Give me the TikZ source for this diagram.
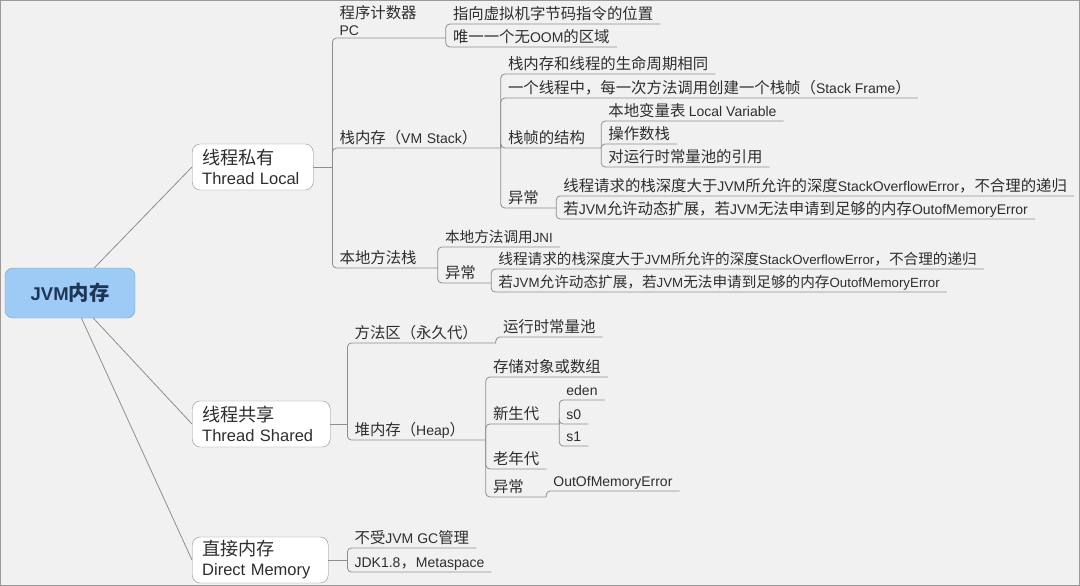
\documentclass[tikz,border=0pt]{standalone}
\usepackage{fontspec}
\setmainfont{Liberation Sans}
\newfontfamily\cjkfont{Noto Sans CJK SC}[Scale=1.1]
\usetikzlibrary{positioning}

% switch to the CJK family for Chinese characters
\XeTeXinterchartokenstate=1
\newXeTeXintercharclass\cjkclass
\count255="4E00
\loop
  \XeTeXcharclass\count255=\cjkclass
  \ifnum\count255<"9FFF \advance\count255 by 1 \repeat
\XeTeXcharclass"FF08=\cjkclass
\XeTeXcharclass"FF09=\cjkclass
\XeTeXcharclass"FF0C=\cjkclass
\XeTeXcharclass"3001=\cjkclass
\XeTeXinterchartoks 0 \cjkclass = {\cjkfont}
\XeTeXinterchartoks 4095 \cjkclass = {\cjkfont}
\XeTeXinterchartoks \cjkclass 0 = {\rmfamily}
\XeTeXinterchartoks 4095 0 = {\rmfamily}

\definecolor{bgcol}{HTML}{F1F1F1}
\definecolor{framecol}{HTML}{9A9A9A}
\definecolor{linecol}{HTML}{8E8E8E}
\definecolor{rootfill}{HTML}{9DCBF6}
\definecolor{rootline}{HTML}{7D9DC2}
\definecolor{roottext}{HTML}{1E3656}
\definecolor{textcol}{HTML}{2E2E2E}

\tikzset{
  branch/.style={draw=linecol, line width=0.8pt, rounded corners=4pt},
  topic/.style={anchor=south west, inner xsep=7pt, inner ysep=2pt, text depth=2pt,
    align=left, text=textcol, font=\fontsize{14}{17}\selectfont},
  smalltopic/.style={font=\fontsize{13.3}{16}\selectfont},
  area/.style={draw=linecol, fill=white, rounded corners=8pt, anchor=west,
    minimum height=46pt, inner xsep=10pt, align=left, text=textcol,
    font=\fontsize{16.5}{20}\selectfont},
}

\begin{document}
\begin{tikzpicture}[x=1pt, y=-1pt]

\useasboundingbox (0,0) rectangle (1080,586);
\fill[bgcol] (0,0) rectangle (1080,586);
\draw[framecol, line width=1.5pt] (0,0) rectangle (1080,586);

% root and the three areas
\node[draw=rootline, fill=rootfill, rounded corners=8pt, minimum width=130pt,
  minimum height=50pt, text=roottext, font=\fontsize{18.5}{22}\selectfont\bfseries]
  (root) at (70,293) {JVM内存};

\node[area, text width=101pt] (local) at (192,167) {线程私有\\Thread Local};
\node[area, text width=118pt] (shared) at (192,424) {线程共享\\Thread Shared};
\node[area, text width=116pt] (direct) at (192,560) {直接内存\\Direct Memory};

\coordinate (localj) at ([xshift=19pt]local.east);
\coordinate (sharedj) at ([xshift=17pt]shared.east);
\coordinate (directj) at ([xshift=19pt]direct.east);

% thread local
\node[topic, text width=99pt, text depth={}] (pc) at (localj |- 0,38) {程序计数器\\PC};
\node[topic, text width=154pt] (stack) at (localj |- 0,148) {栈内存（VM Stack）};
\node[topic, text width=91pt] (native) at (localj |- 0,268) {本地方法栈};

\node[topic] (pcpos) at (pc.south east |- 0,24) {指向虚拟机字节码指令的位置};
\node[topic] (pconly) at (pc.south east |- 0,47) {唯一一个无OOM的区域};

\node[topic] (life) at (stack.south east |- 0,74) {栈内存和线程的生命周期相同};
\node[topic] (perframe) at (stack.south east |- 0,98) {一个线程中，每一次方法调用创建一个栈帧（Stack Frame）};
\node[topic, text width=86pt] (frame) at (stack.south east |- 0,148) {栈帧的结构};
\node[topic, text width=41pt] (stackerr) at (stack.south east |- 0,208) {异常};

\node[topic] (localvar) at (frame.south east |- 0,121) {本地变量表 Local Variable};
\node[topic] (operand) at (frame.south east |- 0,144) {操作数栈};
\node[topic] (constref) at (frame.south east |- 0,167) {对运行时常量池的引用};

\node[topic] (sof) at (stackerr.south east |- 0,196) {线程请求的栈深度大于JVM所允许的深度StackOverflowError，不合理的递归};
\node[topic] (oom) at (stackerr.south east |- 0,219) {若JVM允许动态扩展，若JVM无法申请到足够的内存OutofMemoryError};

\node[topic, smalltopic] (jni) at (native.south east |- 0,247) {本地方法调用JNI};
\node[topic, text width=39pt] (nativeerr) at (native.south east |- 0,283) {异常};
\node[topic, smalltopic] (nsof) at (nativeerr.south east |- 0,269) {线程请求的栈深度大于JVM所允许的深度StackOverflowError，不合理的递归};
\node[topic, smalltopic] (noom) at (nativeerr.south east |- 0,292) {若JVM允许动态扩展，若JVM无法申请到足够的内存OutofMemoryError};

% thread shared
\node[topic, text width=134pt] (method) at (sharedj |- 0,343) {方法区（永久代）};
\node[topic, text width=124pt] (heap) at (sharedj |- 0,440) {堆内存（Heap）};

\node[topic] (pool) at (method.south east |- 0,337) {运行时常量池};

\node[topic] (store) at (heap.south east |- 0,377) {存储对象或数组};
\node[topic, text width=59pt] (young) at (heap.south east |- 0,424) {新生代};
\node[topic] (old) at (heap.south east |- 0,469) {老年代};
\node[topic, text width=46pt] (heaperr) at (heap.south east |- 0,497) {异常};

\node[topic] (eden) at (young.south east |- 0,400) {eden};
\node[topic] (szero) at (young.south east |- 0,424) {s0};
\node[topic] (sone) at (young.south east |- 0,446) {s1};

\node[topic] (heapoom) at (heaperr.south east |- 0,491) {OutOfMemoryError};

% direct memory
\node[topic] (nogc) at (directj |- 0,548) {不受JVM GC管理};
\node[topic] (meta) at (directj |- 0,572) {JDK1.8，Metaspace};

% connectors
\draw[branch] (root) -- (local.west);
\draw[branch] (root) -- (shared.west);
\draw[branch] (root) -- (direct.west);

\draw[branch] (local.east) -- (localj);
\draw[branch] (localj) |- (pc.south east);
\draw[branch] (localj) |- (stack.south east);
\draw[branch] (localj) |- (native.south east);

\draw[branch] (pc.south east) |- (pcpos.south east);
\draw[branch] (pc.south east) |- (pconly.south east);

\draw[branch] (stack.south east) |- (life.south east);
\draw[branch] (stack.south east) |- (perframe.south east);
\draw[branch] (stack.south east) |- (frame.south east);
\draw[branch] (stack.south east) |- (stackerr.south east);

\draw[branch] (frame.south east) |- (localvar.south east);
\draw[branch] (frame.south east) |- (operand.south east);
\draw[branch] (frame.south east) |- (constref.south east);

\draw[branch] (stackerr.south east) |- (sof.south east);
\draw[branch] (stackerr.south east) |- (oom.south east);

\draw[branch] (native.south east) |- (jni.south east);
\draw[branch] (native.south east) |- (nativeerr.south east);
\draw[branch] (nativeerr.south east) |- (nsof.south east);
\draw[branch] (nativeerr.south east) |- (noom.south east);

\draw[branch] (shared.east) -- (sharedj);
\draw[branch] (sharedj) |- (method.south east);
\draw[branch] (sharedj) |- (heap.south east);
\draw[branch] (method.south east) |- (pool.south east);

\draw[branch] (heap.south east) |- (store.south east);
\draw[branch] (heap.south east) |- (young.south east);
\draw[branch] (heap.south east) |- (old.south east);
\draw[branch] (heap.south east) |- (heaperr.south east);

\draw[branch] (young.south east) |- (eden.south east);
\draw[branch] (young.south east) |- (szero.south east);
\draw[branch] (young.south east) |- (sone.south east);
\draw[branch] (heaperr.south east) |- (heapoom.south east);

\draw[branch] (direct.east) -- (directj);
\draw[branch] (directj) |- (nogc.south east);
\draw[branch] (directj) |- (meta.south east);

\end{tikzpicture}
\end{document}
